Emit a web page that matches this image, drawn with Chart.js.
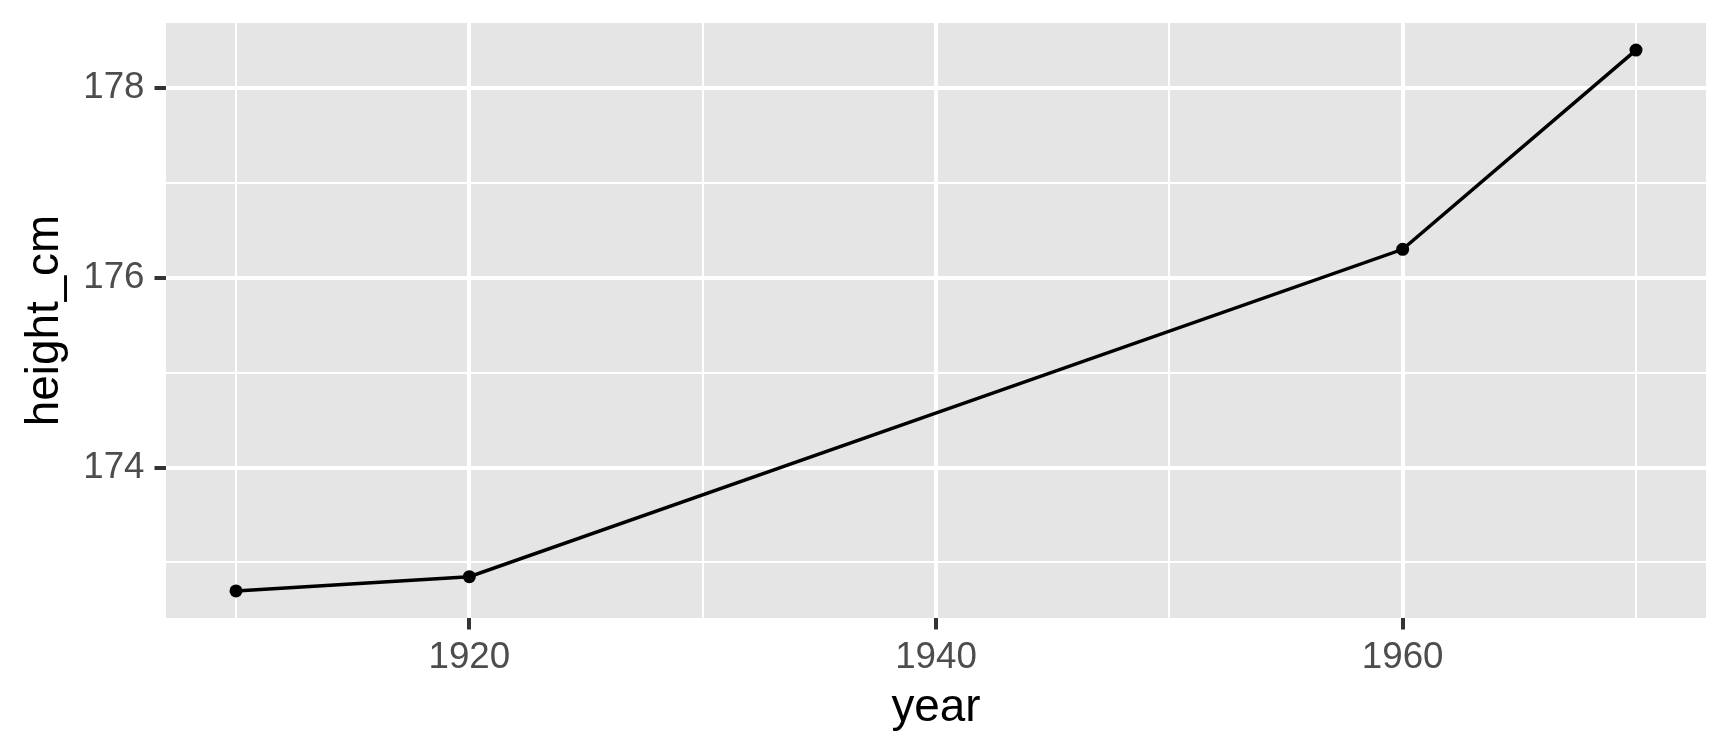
<!DOCTYPE html>
<html>
<head>
<meta charset="utf-8">
<script src="https://cdn.jsdelivr.net/npm/chart.js@4"></script>
<style>
  html, body { margin: 0; padding: 0; background: #fff; }
  #wrap { width: 1728px; height: 756px; position: relative; }
</style>
</head>
<body>
<div id="wrap"><canvas id="height-chart"></canvas></div>
<script>
var years = [1910, 1920, 1960, 1970];
var heights = [172.7, 172.85, 176.3, 178.4];
var xTicks = [1910, 1920, 1930, 1940, 1950, 1960, 1970];
var xLabels = [1920, 1940, 1960];
var yTicks = [173, 174, 175, 176, 177, 178];
var yLabels = [174, 176, 178];

var fontFamily = '"Liberation Sans", Arial, Helvetica, sans-serif';

// grey panel behind the plot area, like ggplot's theme_grey
var panelBg = {
  id: 'panelBg',
  beforeDraw: function(chart) {
    var a = chart.chartArea, c = chart.ctx;
    c.save();
    c.fillStyle = '#E5E5E5';
    c.fillRect(a.left, a.top, a.right - a.left, a.bottom - a.top);
    c.restore();
  }
};

function isMajor(list, v) { return list.indexOf(v) !== -1; }

var ctx = document.getElementById('height-chart').getContext('2d');
var chart = new Chart(ctx, {
  type: 'line',
  data: {
    datasets: [{
      data: years.map(function(y, i) { return { x: y, y: heights[i] }; }),
      borderColor: '#000000',
      borderWidth: 3.5,
      backgroundColor: '#000000',
      pointRadius: 6.5,
      pointBorderWidth: 0,
      pointBackgroundColor: '#000000',
      tension: 0,
      fill: false
    }]
  },
  options: {
    responsive: true,
    maintainAspectRatio: false,
    animation: false,
    layout: { padding: { top: 23, right: 22, left: 0, bottom: 0 } },
    plugins: { legend: { display: false }, tooltip: { enabled: false } },
    scales: {
      x: {
        type: 'linear',
        min: 1907,
        max: 1973,
        afterBuildTicks: function(scale) {
          scale.ticks = xTicks.map(function(v) { return { value: v }; });
        },
        afterFit: function(scale) {
          scale.height = 138;
          scale.paddingLeft = 0; scale.paddingRight = 0;
        },
        border: { display: false },
        grid: {
          color: '#FFFFFF',
          lineWidth: function(c) { return isMajor(xLabels, c.tick.value) ? 4 : 2; },
          tickColor: function(c) { return isMajor(xLabels, c.tick.value) ? '#333333' : 'rgba(0,0,0,0)'; },
          tickWidth: 4,
          tickLength: 11.5
        },
        ticks: {
          autoSkip: false,
          maxRotation: 0,
          padding: 6,
          color: '#4D4D4D',
          font: { family: fontFamily, size: 36.7 },
          callback: function(v) { return isMajor(xLabels, v) ? String(v) : ''; }
        },
        title: {
          display: true,
          text: 'year',
          color: '#000000',
          font: { family: fontFamily, size: 45.8 },
          padding: { top: 0, bottom: 20 }
        }
      },
      y: {
        type: 'linear',
        min: 172.415,
        max: 178.685,
        afterBuildTicks: function(scale) {
          scale.ticks = yTicks.map(function(v) { return { value: v }; });
        },
        afterFit: function(scale) {
          scale.width = 166;
          scale.paddingTop = 0; scale.paddingBottom = 0;
        },
        border: { display: false },
        grid: {
          color: '#FFFFFF',
          lineWidth: function(c) { return isMajor(yLabels, c.tick.value) ? 4 : 2; },
          tickColor: function(c) { return isMajor(yLabels, c.tick.value) ? '#333333' : 'rgba(0,0,0,0)'; },
          tickWidth: 4,
          tickLength: 11.5
        },
        ticks: {
          autoSkip: false,
          padding: 10,
          color: '#4D4D4D',
          font: { family: fontFamily, size: 36.7 },
          callback: function(v) { return isMajor(yLabels, v) ? String(v) : ''; }
        },
        title: {
          display: true,
          text: 'height_cm',
          color: '#000000',
          font: { family: fontFamily, size: 45.8 },
          padding: { top: 17.5, bottom: 0 }
        }
      }
    }
  },
  plugins: [panelBg]
});
</script>
</body>
</html>
